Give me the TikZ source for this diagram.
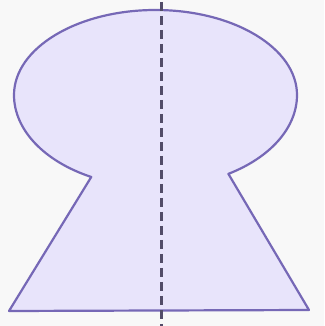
\documentclass[tikz,border=0pt]{standalone}
\usepackage{tikz}
\usetikzlibrary{calc}
\definecolor{keyfill}{RGB}{232,228,251}
\definecolor{keyline}{RGB}{118,104,182}
\definecolor{axisline}{RGB}{82,76,104}
\definecolor{paper}{RGB}{248,248,248}

\begin{document}
\begin{tikzpicture}[x=1pt,y=1pt]
  \fill[paper] (0,0) rectangle (324,326);
  \useasboundingbox (0,0) rectangle (324,326);
  \coordinate (C) at (155.5,231);
  \coordinate (BL) at (9,15);
  \coordinate (BR) at (309,16);
  \filldraw[fill=keyfill,draw=keyline,line width=2.2pt,line join=round]
    ($(C)+(243:141.5 and 92)$)
    arc[start angle=243,end angle=180,x radius=141.5,y radius=92]
    arc[start angle=180,end angle=0,x radius=141.5,y radius=85]
    arc[start angle=360,end angle=301,x radius=141.5,y radius=92]
    -- (BR) -- (BL) -- cycle;
  \coordinate (top) at (161,324);
  \coordinate (bot) at (161,0);
  \draw[axisline,line width=3pt,dash pattern=on 9pt off 5pt] (top) -- (bot);
\end{tikzpicture}
\end{document}
